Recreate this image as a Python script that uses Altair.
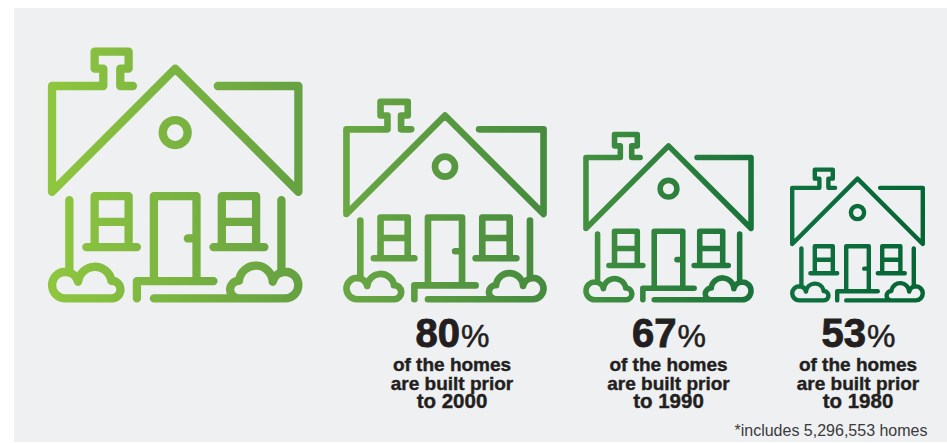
import altair as alt
import pandas as pd

# Cohorts: the largest house stands for the whole housing stock
cohorts = ["All homes", "2000", "1990", "1980"]
shares = [100, 80, 67, 53]
label_lines = ["of the homes", "are built prior"]
footnote = ["*includes 5,296,553 homes"]

INK = "#231f20"
HOUSE_X = [175.2, 445, 668.5, 857.5]
LABEL_X = [452, 452, 668.5, 858]
W, H = 947, 443


def line(*pts):
    """One open polyline of the icon, in its 766-unit drawing grid centred on 0."""
    cmds = []
    for i, (x, y) in enumerate(pts):
        cmds.append(("M" if i == 0 else "L") + f"{(x - 525) / 383:.4f},{(y - 525) / 383:.4f}")
    return "".join(cmds)


def arc(x0, y0, r, x1, y1, large=0, sweep=1):
    k = r / 383
    return (
        f"M{(x0 - 525) / 383:.4f},{(y0 - 525) / 383:.4f}"
        f"A{k:.4f},{k:.4f} 0 {large} {sweep} {(x1 - 525) / 383:.4f},{(y1 - 525) / 383:.4f}"
    )


ICON = "".join(
    [
        # roof and chimney
        line((398, 257), (360, 257), (360, 205), (385, 205), (385, 154), (283, 154), (283, 205),
             (309, 205), (309, 257), (155, 257), (155, 575), (525, 205), (895, 575), (895, 257), (653, 257)),
        # attic window
        arc(487.5, 397, 37.5, 562.5, 397),
        arc(562.5, 397, 37.5, 487.5, 397),
        # walls
        line((207, 600), (207, 818)),
        line((844, 600), (844, 818)),
        # windows with their sills
        line((283, 741), (283, 588), (385, 588), (385, 741)),
        line((283, 665), (385, 665)),
        line((258, 741), (410, 741)),
        line((665, 741), (665, 588), (768, 588), (768, 741)),
        line((665, 665), (768, 665)),
        line((640, 741), (793, 741)),
        # door, knob, step and path
        line((461, 843), (461, 588), (589, 588), (589, 843)),
        line((563, 715), (589, 715)),
        line((640, 843), (410, 843), (410, 895)),
        line((461, 895), (855, 895)),
        # left shrub
        line((335, 895), (195, 895)),
        arc(195, 895, 40, 195, 815),
        arc(195, 815, 40, 233, 845),
        arc(233, 845, 51, 333, 838),
        arc(333, 842, 26, 335, 895),
        # right shrub
        arc(855, 895, 40, 855, 815, sweep=0),
        arc(855, 815, 40, 818, 845, sweep=0),
        arc(818, 845, 51, 717, 838, sweep=0),
        arc(717, 842, 26, 716, 895, sweep=0),
    ]
)

GRADIENTS = [
    ("#8ec63f", "#66a142"),
    ("#69a743", "#468b3f"),
    ("#43903f", "#19733a"),
    ("#0f7040", "#056535"),
]

houses = pd.DataFrame({"cohort": cohorts, "share": shares, "slot": range(len(cohorts))})
labels = houses[houses["share"] < 100]

# The slots sit at uneven distances, so both position scales are piecewise linear
slots = houses["slot"].tolist()
house_x = alt.X("slot:Q", axis=None, scale=alt.Scale(domain=slots, range=HOUSE_X))
label_x = alt.X("slot:Q", axis=None, scale=alt.Scale(domain=slots, range=LABEL_X))

panel = alt.Chart(pd.DataFrame({"a": [0]})).mark_rect(color="#eff0f2").encode(
    x=alt.value(14), x2=alt.value(947), y=alt.value(8), y2=alt.value(442)
)

# House width follows the share, so the symbol's area grows with its square
house_layers = []
for row, (start, end) in zip(houses.itertuples(), GRADIENTS):
    house_layers.append(
        alt.Chart(houses[houses["cohort"] == row.cohort])
        .mark_point(
            shape=ICON,
            filled=False,
            opacity=1,
            strokeCap="round",
            strokeJoin="round",
            stroke=alt.Gradient(
                gradient="linear",
                x1=0, x2=1, y1=0, y2=0,
                stops=[alt.GradientStop(offset=0, color=start), alt.GradientStop(offset=1, color=end)],
            ),
        )
        .encode(
            x=house_x,
            y=alt.Y("share:Q", axis=None, scale=alt.Scale(domain=[0, 100], range=[302.7, 175.2])),
            size=alt.Size(
                "share:Q", legend=None,
                scale=alt.Scale(type="pow", exponent=2, domain=[0, 100], range=[0, 255 ** 2]),
            ),
            strokeWidth=alt.StrokeWidth(
                "share:Q", legend=None, scale=alt.Scale(domain=[0, 100], range=[0, 8.3])
            ),
        )
    )

FONT = "Liberation Sans"
digits = alt.Chart(labels).mark_text(
    font=FONT, fontWeight="bold", fontSize=40, color=INK, align="right", baseline="alphabetic",
    dx=8, stroke=INK, strokeWidth=0.9,
).encode(x=label_x, y=alt.value(346.5), text=alt.Text("share:Q", format="d"))

percent = alt.Chart(labels).mark_text(
    font=FONT, fontSize=32, color=INK, align="left", baseline="alphabetic", dx=9,
    stroke=INK, strokeWidth=0.5,
).transform_calculate(sign="'%'").encode(x=label_x, y=alt.value(346.5), text="sign:N")

caption_layers = [
    alt.Chart(labels).mark_text(
        font=FONT, fontWeight="bold", fontSize=19, color=INK, baseline="alphabetic",
        stroke=INK, strokeWidth=0.4,
    ).transform_calculate(caption=f"'{text}'").encode(x=label_x, y=alt.value(y), text="caption:N")
    for text, y in zip(label_lines, [370.7, 390])
]
year_line = alt.Chart(labels).mark_text(
    font=FONT, fontWeight="bold", fontSize=20.5, color=INK, baseline="alphabetic",
    stroke=INK, strokeWidth=0.4,
).transform_calculate(caption="'to ' + datum.cohort").encode(x=label_x, y=alt.value(407.7), text="caption:N")

note = alt.Chart(pd.DataFrame({"t": footnote})).mark_text(
    font=FONT, fontSize=16, color="#3a3a3c", align="right", baseline="alphabetic",
).encode(x=alt.value(927.5), y=alt.value(435.7), text="t:N")

chart = (
    alt.layer(panel, *house_layers, digits, percent, *caption_layers, year_line, note)
    .resolve_scale(x="independent", y="independent", size="independent", strokeWidth="independent")
    .properties(width=W, height=H, background="#ffffff", padding=0, autosize=alt.AutoSizeParams(type="none"))
    .configure_view(stroke=None)
)

chart.save("out.html", embed_options={"renderer": "svg", "actions": False})
